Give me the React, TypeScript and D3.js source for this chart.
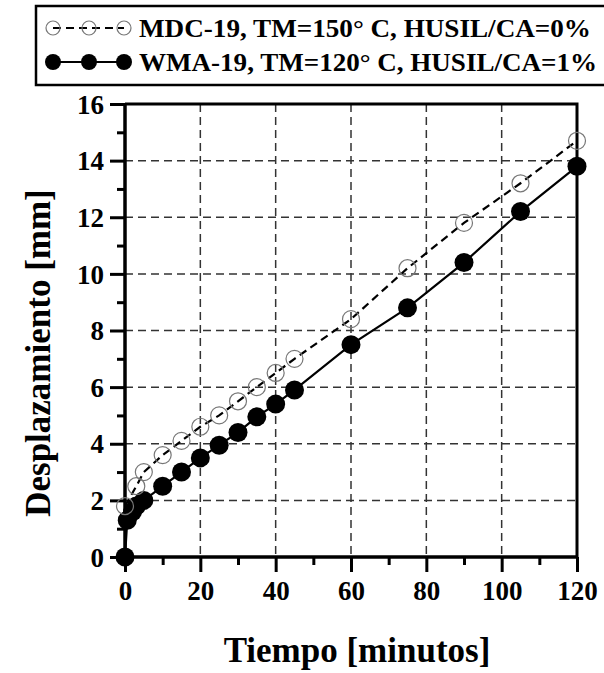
import * as d3 from "d3";
import { useEffect, useRef } from "react";

// MDC-19 (open circles, dashed)
const mdcTime = [0, 3, 5, 10, 15, 20, 25, 30, 35, 40, 45, 60, 75, 90, 105, 120];
const mdcDisp = [1.8, 2.5, 3.0, 3.6, 4.1, 4.6, 5.0, 5.5, 6.0, 6.5, 7.0, 8.4, 10.2, 11.8, 13.2, 14.7];

// WMA-19 (filled circles, solid)
const wmaTime = [0, 0.6, 2, 3, 5, 10, 15, 20, 25, 30, 35, 40, 45, 60, 75, 90, 105, 120];
const wmaDisp = [0, 1.3, 1.6, 1.8, 2.0, 2.5, 3.0, 3.5, 3.95, 4.4, 4.95, 5.4, 5.9, 7.5, 8.8, 10.4, 12.2, 13.8];

const xTicks = [0, 20, 40, 60, 80, 100, 120];
const yTicks = [0, 2, 4, 6, 8, 10, 12, 14, 16];

const legendLabels = [
  "MDC-19, TM=150° C, HUSIL/CA=0%",
  "WMA-19, TM=120° C, HUSIL/CA=1%",
];

const W = 604;
const H = 673;
const FONT = "Liberation Serif";

export default function App() {
  const svgRef = useRef<SVGSVGElement>(null);

  useEffect(() => {
    const svg = d3.select(svgRef.current);
    svg.selectAll("*").remove();

    const left = 125, right = 577, top = 104, bottom = 557;
    const x = d3.scaleLinear().domain([0, 120]).range([left, right]);
    const y = d3.scaleLinear().domain([0, 16]).range([bottom, top]);

    // grid
    const grid = svg.append("g").attr("stroke", "#333").attr("stroke-width", 1.5).attr("stroke-dasharray", "8,5");
    grid.selectAll("line.gx").data(xTicks.filter((t) => t > 0 && t < 120)).enter().append("line")
      .attr("x1", (d) => x(d)).attr("x2", (d) => x(d)).attr("y1", top).attr("y2", bottom);
    grid.selectAll("line.gy").data(yTicks.filter((t) => t > 0 && t < 16)).enter().append("line")
      .attr("y1", (d) => y(d)).attr("y2", (d) => y(d)).attr("x1", left).attr("x2", right);

    // frame top/right
    svg.append("path")
      .attr("d", `M${left},${top}H${right}V${bottom}`)
      .attr("fill", "none").attr("stroke", "#000").attr("stroke-width", 3);

    // axes
    const xAxis = d3.axisBottom(x).tickValues(d3.range(0, 121, 10)).tickSize(8)
      .tickFormat((d) => (xTicks.includes(d as number) ? String(d) : ""));
    const gx = svg.append("g").attr("transform", `translate(0,${bottom})`).call(xAxis);
    gx.attr("font-family", FONT).attr("font-size", 27).attr("font-weight", "bold");
    gx.select(".domain").attr("stroke-width", 3.5).attr("d", `M${left},0H${right}`);
    gx.selectAll(".tick line").attr("stroke-width", 3)
      .attr("y2", (d) => (xTicks.includes(d as number) ? 15 : 8));
    gx.selectAll(".tick text").attr("y", 24).attr("dy", "0.71em").attr("fill", "#000");

    const yAxis = d3.axisLeft(y).tickValues(d3.range(0, 16.1, 1)).tickSize(8)
      .tickFormat((d) => (yTicks.includes(d as number) ? String(d) : ""));
    const gy = svg.append("g").attr("transform", `translate(${left},0)`).call(yAxis);
    gy.attr("font-family", FONT).attr("font-size", 27).attr("font-weight", "bold");
    gy.select(".domain").attr("stroke-width", 3.5).attr("d", `M0,${top}V${bottom}`);
    gy.selectAll(".tick line").attr("stroke-width", 3)
      .attr("x2", (d) => (yTicks.includes(d as number) ? -15 : -8));
    gy.selectAll(".tick text").attr("x", -21).attr("dy", "0.34em").attr("fill", "#000");

    // series
    const line = d3.line<[number, number]>().x((d) => x(d[0])).y((d) => y(d[1]));
    const mdc = mdcTime.map((t, i) => [t, mdcDisp[i]] as [number, number]);
    const wma = wmaTime.map((t, i) => [t, wmaDisp[i]] as [number, number]);

    svg.append("path").attr("d", line(wma)!).attr("fill", "none")
      .attr("stroke", "#000").attr("stroke-width", 2.2);
    svg.append("path").attr("d", line(mdc)!).attr("fill", "none")
      .attr("stroke", "#000").attr("stroke-width", 2.2).attr("stroke-dasharray", "8,5");

    svg.selectAll("circle.wma").data(wma).enter().append("circle")
      .attr("cx", (d) => x(d[0])).attr("cy", (d) => y(d[1])).attr("r", 9.5).attr("fill", "#000");
    svg.selectAll("circle.mdc").data(mdc).enter().append("circle")
      .attr("cx", (d) => x(d[0])).attr("cy", (d) => y(d[1])).attr("r", 8.5)
      .attr("fill", "none").attr("stroke", "#777").attr("stroke-width", 1.2);

    // axis titles
    svg.append("text").attr("x", 357).attr("y", 662).attr("text-anchor", "middle")
      .attr("font-family", FONT).attr("font-weight", "bold").attr("font-size", 35).text("Tiempo [minutos]");
    svg.append("text").attr("transform", `translate(50,353) rotate(-90)`).attr("text-anchor", "middle")
      .attr("font-family", FONT).attr("font-weight", "bold").attr("font-size", 35).text("Desplazamiento [mm]");

    // legend
    const lg = svg.append("g");
    lg.append("rect").attr("x", 36).attr("y", 6).attr("width", 580).attr("height", 79)
      .attr("fill", "#fff").attr("stroke", "#000").attr("stroke-width", 2.5);
    const rows = [28, 62];
    const lx = [53, 89, 124];
    rows.forEach((ry, i) => {
      lg.append("line").attr("x1", lx[0]).attr("x2", lx[2]).attr("y1", ry).attr("y2", ry)
        .attr("stroke", "#000").attr("stroke-width", 2.2)
        .attr("stroke-dasharray", i === 0 ? "8,5" : null);
      lx.forEach((cx) => {
        lg.append("circle").attr("cx", cx).attr("cy", ry).attr("r", i === 0 ? 7 : 8)
          .attr("fill", i === 0 ? "none" : "#000").attr("stroke", i === 0 ? "#777" : "none").attr("stroke-width", 1.2);
      });
      lg.append("text").attr("x", 139).attr("y", ry).attr("dy", "0.35em")
        .attr("font-family", FONT).attr("font-weight", "bold").attr("font-size", 26)
        .attr("textLength", i === 0 ? 452 : 458).attr("lengthAdjust", "spacingAndGlyphs")
        .text(legendLabels[i]);
    });
  }, []);

  return (
    <svg ref={svgRef} width={W} height={H}
      style={{ position: "absolute", left: 0, top: 0, background: "#fff" }} />
  );
}
